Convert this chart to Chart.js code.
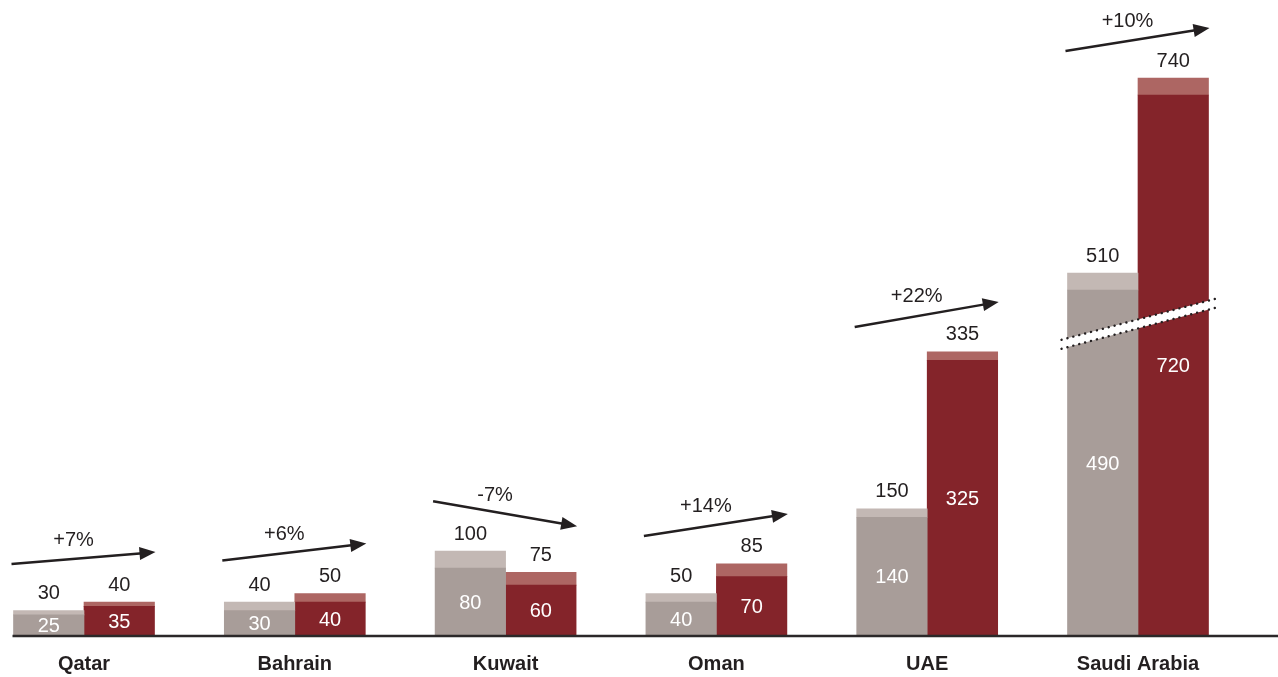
<!DOCTYPE html>
<html>
<head>
<meta charset="utf-8">
<script src="https://cdn.jsdelivr.net/npm/chart.js@4.4.1/dist/chart.umd.min.js"></script>
<style>
  html, body { margin: 0; padding: 0; background: #fff; }
  #wrap { width: 1278px; height: 677px; position: relative; }
</style>
</head>
<body>
<div id="wrap"><canvas id="chart"></canvas></div>
<script>
// DATA
const COUNTRIES = ["Qatar", "Bahrain", "Kuwait", "Oman", "UAE", "Saudi Arabia"]
const OLD_TOTAL = [30, 40, 100, 50, 150, 510]
const OLD_BASE = [25, 30, 80, 40, 140, 490]
const NEW_TOTAL = [40, 50, 75, 85, 335, 740]
const NEW_BASE = [35, 40, 60, 70, 325, 720]
const GROWTH = ["+7%", "+6%", "-7%", "+14%", "+22%", "+10%"]

// units cut out by the axis break (Saudi Arabia only)
const BREAK_CUT = [0, 0, 0, 0, 0, 82]


// COLOURS AND LOOK
const GREY = "#a89d99"
const GREY_LIGHT = "#c3b8b4"
const RED = "#84242a"
const RED_LIGHT = "#ad6663"
const INK = "#231f20"
const FONT = "'Liberation Sans', Arial, sans-serif"

// arrow tilt in pixels per group
const ARROW_RISE = [12, 17, 25, 22, 25, 23]

// where the break band crosses the bars (plotted units, left / right end)
const BREAK_AT = [344, 393]


// values as drawn (base is shortened by the break)
function plottedBase(base) {
  return base.map(function (value, i) {
    return value - BREAK_CUT[i]
  })
}

function topPart(total, base) {
  return total.map(function (value, i) {
    return value - base[i]
  })
}


// text helper
function text(ctx, str, x, y, color, font) {
  ctx.fillStyle = color
  ctx.font = font
  ctx.textAlign = "center"
  ctx.textBaseline = "middle"
  ctx.fillText(str, x, y)
}


// arrow with filled head
function arrow(ctx, x0, y0, x1, y1) {
  const angle = Math.atan2(y1 - y0, x1 - x0)
  const head = 16
  const half = 6.5

  ctx.save()
  ctx.strokeStyle = INK
  ctx.fillStyle = INK
  ctx.lineWidth = 2.5

  ctx.beginPath()
  ctx.moveTo(x0, y0)
  ctx.lineTo(x1 - Math.cos(angle) * head * 0.8, y1 - Math.sin(angle) * head * 0.8)
  ctx.stroke()

  ctx.beginPath()
  ctx.moveTo(x1, y1)
  ctx.lineTo(
    x1 - Math.cos(angle) * head + Math.sin(angle) * half,
    y1 - Math.sin(angle) * head - Math.cos(angle) * half,
  )
  ctx.lineTo(
    x1 - Math.cos(angle) * head - Math.sin(angle) * half,
    y1 - Math.sin(angle) * head + Math.cos(angle) * half,
  )
  ctx.closePath()
  ctx.fill()
  ctx.restore()
}


// labels, arrows, break and baseline
const overlay = {
  id: "overlay",
  afterDatasetsDraw(chart) {
    const ctx = chart.ctx
    const y = chart.scales.y
    const oldBase = chart.getDatasetMeta(0).data
    const oldTop = chart.getDatasetMeta(1).data
    const newBase = chart.getDatasetMeta(2).data
    const newTop = chart.getDatasetMeta(3).data
    const zero = y.getPixelForValue(0)

    COUNTRIES.forEach(function (name, i) {
      const g = oldTop[i]
      const r = newTop[i]
      const w = g.width

      // axis break band
      if (BREAK_CUT[i] > 0) {
        const x0 = g.x - w / 2 - 6
        const x1 = r.x + w / 2 + 9
        const yl = y.getPixelForValue(BREAK_AT[0])
        const yr = y.getPixelForValue(BREAK_AT[1])

        ctx.save()
        ctx.fillStyle = "#fff"
        ctx.beginPath()
        ctx.moveTo(x0, yl - 4.5)
        ctx.lineTo(x1, yr - 4.5)
        ctx.lineTo(x1, yr + 4.5)
        ctx.lineTo(x0, yl + 4.5)
        ctx.closePath()
        ctx.fill()

        // dotted edges
        ctx.strokeStyle = INK
        ctx.lineWidth = 2.4
        ctx.lineCap = "round"
        ctx.setLineDash([0.1, 6])
        ctx.beginPath()
        ctx.moveTo(x0, yl - 4.5)
        ctx.lineTo(x1, yr - 4.5)
        ctx.moveTo(x0, yl + 4.5)
        ctx.lineTo(x1, yr + 4.5)
        ctx.stroke()
        ctx.restore()
      }

      // totals above bars
      text(ctx, String(OLD_TOTAL[i]), g.x, g.y - 17, INK, "20px " + FONT)
      text(ctx, String(NEW_TOTAL[i]), r.x, r.y - 17, INK, "20px " + FONT)

      // base values inside bars
      const gb = oldBase[i]
      const rb = newBase[i]
      text(ctx, String(OLD_BASE[i]), gb.x, (gb.y + gb.base) / 2 + 1, "#fff", "20px " + FONT)
      text(ctx, String(NEW_BASE[i]), rb.x, (rb.y + rb.base) / 2 + 1, "#fff", "20px " + FONT)

      // growth arrow
      const high = Math.min(g.y, r.y) - 50
      const up = GROWTH[i].charAt(0) !== "-"
      const x0 = g.x - w / 2 - 2
      const x1 = r.x + w / 2 + 1
      const y0 = up ? high + ARROW_RISE[i] : high
      const y1 = up ? high : high + ARROW_RISE[i]

      arrow(ctx, x0, y0, x1, y1)
      text(ctx, GROWTH[i], (x0 + x1) / 2 - 10, (y0 + y1) / 2 - 18, INK, "20px " + FONT)
    })

    // baseline
    ctx.save()
    ctx.strokeStyle = "#2b2829"
    ctx.lineWidth = 2.5
    ctx.beginPath()
    ctx.moveTo(oldBase[0].x - oldBase[0].width / 2 - 1, zero)
    ctx.lineTo(chart.width, zero)
    ctx.stroke()
    ctx.restore()
  },
}


// chart
new Chart(document.getElementById("chart"), {
  type: "bar",
  data: {
    labels: COUNTRIES,
    datasets: [
      { data: plottedBase(OLD_BASE), backgroundColor: GREY, stack: "old" },
      { data: topPart(OLD_TOTAL, OLD_BASE), backgroundColor: GREY_LIGHT, stack: "old" },
      { data: plottedBase(NEW_BASE), backgroundColor: RED, stack: "new" },
      { data: topPart(NEW_TOTAL, NEW_BASE), backgroundColor: RED_LIGHT, stack: "new" },
    ],
  },
  options: {
    responsive: true,
    maintainAspectRatio: false,
    animation: false,
    layout: { padding: { left: 84, right: 140, top: 0, bottom: 0 } },
    datasets: { bar: { barThickness: 70.5, clip: false, borderWidth: 0 } },
    plugins: { legend: { display: false }, tooltip: { enabled: false } },
    scales: {
      x: {
        offset: false,
        stacked: true,
        grid: { display: false, drawTicks: false },
        border: { display: false },
        ticks: {
          color: INK,
          padding: 16,
          font: { family: FONT, size: 20, weight: "bold" },
          maxRotation: 0,
          autoSkip: false,
        },
        afterFit: function (scale) {
          scale.height = 41
        },
      },
      y: {
        display: false,
        stacked: true,
        min: 0,
        max: 750,
      },
    },
  },
  plugins: [overlay],
})
</script>
</body>
</html>
